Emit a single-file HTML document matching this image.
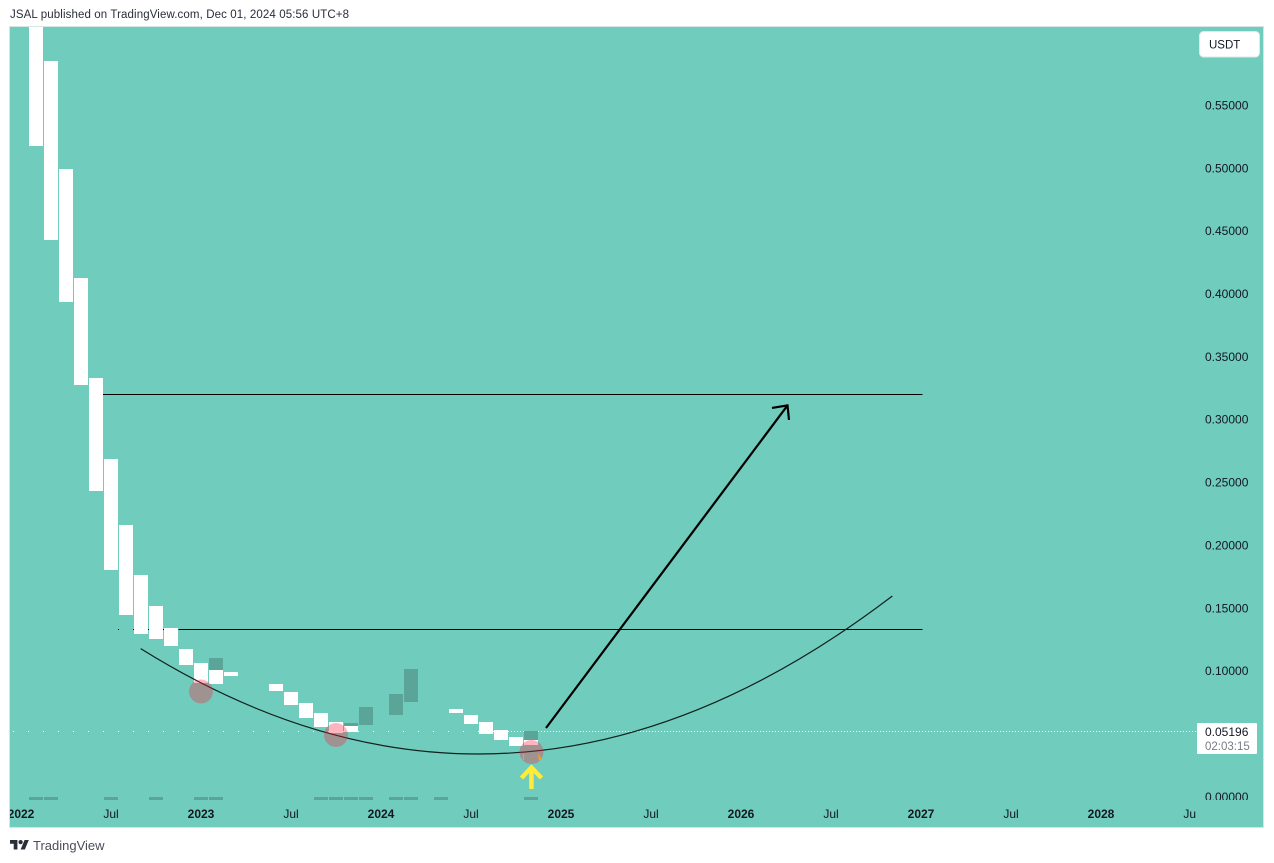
<!DOCTYPE html>
<html lang="en">
<head>
<meta charset="utf-8">
<title>JSAL chart</title>
<style>
html,body{margin:0;padding:0;background:#fff;width:1274px;height:863px;overflow:hidden}
svg{display:block;position:absolute;left:0;top:0}
text{font-family:"Liberation Sans",sans-serif}
</style>
</head>
<body>
<svg id="chart" xmlns="http://www.w3.org/2000/svg" width="1274" height="863" viewBox="0 0 1274 863">
  <defs>
    <clipPath id="plotClip"><rect x="10" y="27" width="1253" height="800"/></clipPath>
    <clipPath id="priceClip"><rect x="1198" y="27" width="65" height="773"/></clipPath>
    <clipPath id="timeClip"><rect x="10" y="800" width="1186" height="27"/></clipPath>
  </defs>
  <text x="10" y="18" font-size="11.5" fill="#2a2e39" textLength="339" lengthAdjust="spacing">JSAL published on TradingView.com, Dec 01, 2024 05:56 UTC+8</text>
  <rect x="9.5" y="26.5" width="1254" height="801" fill="#70ccbc" stroke="#d5e6e3" stroke-width="1"/>
  <g id="plot" clip-path="url(#plotClip)"></g>
  <g id="priceAxis" clip-path="url(#priceClip)"></g>
  <g id="timeAxis" clip-path="url(#timeClip)"></g>
  <g>
    <rect x="1199.5" y="31.5" width="60" height="25.5" rx="4" fill="#ffffff" stroke="#dfe9e7"/>
    <text x="1209" y="48.5" font-size="11.5" fill="#131722">USDT</text>
  </g>
  <g>
    <rect x="1197" y="723" width="60" height="31" rx="1" fill="#ffffff"/>
    <text x="1205" y="736" font-size="12" fill="#131722">0.05196</text>
    <text x="1205" y="750" font-size="11.5" fill="#787b86">02:03:15</text>
  </g>
  <g>
    <g transform="translate(10 837.9) scale(0.53)" fill="#2a2e39">
      <path d="M14 22H7V11H0V4h14v18z"/>
      <circle cx="20" cy="8" r="4"/>
      <path d="M28 22h-8l7.5-18h8L28 22z"/>
    </g>
    <text x="33" y="850" font-size="13" fill="#4a4e59">TradingView</text>
  </g>
</svg>
<script>
// Monthly candles (month index counted from Jan 2022), prices in USDT.
const candleMonths = [1,2,3,4,5,6,7,8,9,10,11,12,13,14,17,18,19,20,21,22,29,30,31,32,33,34];
const candleHighs  = [0.66,0.5851,0.4992,0.4125,0.3329,0.2685,0.2160,0.1762,0.1516,0.1340,0.1173,0.1062,0.1006,0.0990,0.0895,0.0831,0.0744,0.0664,0.0593,0.0561,0.0696,0.0648,0.0593,0.0529,0.0473,0.0450];
const candleLows   = [0.5175,0.4427,0.3934,0.3274,0.2430,0.1802,0.1444,0.1293,0.1253,0.1197,0.1046,0.0903,0.0895,0.0959,0.0839,0.0728,0.0625,0.0553,0.0505,0.0513,0.0664,0.0577,0.0497,0.0449,0.0402,0.0410];
const upMonths = [13,22,23,25,26,34];
const upHighs  = [0.1102,0.0585,0.0712,0.0815,0.1014,0.0521];
const upLows   = [0.1006,0.0561,0.0569,0.0648,0.0752,0.0450];
const volumeMonths = [1,2,6,9,12,13,20,21,22,23,25,26,28,34];
const volumeValues = [1,1,1,1,1,1,1,1,1,1,1,1,1,1];
const priceTicks = [0.55,0.50,0.45,0.40,0.35,0.30,0.25,0.20,0.15,0.10,0.05,0.00];
const timeTickMonths = [0,6,12,18,24,30,36,42,48,54,60,66,72,78];
const timeTickLabels = ["2022","Jul","2023","Jul","2024","Jul","2025","Jul","2026","Jul","2027","Jul","2028","Jul"];
const lastPrice = 0.05196;
const levelPrices = [0.3198,0.13286];
const levelStartMonths = [5.4,10.5];
const levelEndMonth = 60.1;
const arcMonths = [7.98,33.02,58.09];
const arcPrices = [0.1176,-0.0688,0.1595];
const arrowMonths = [35,51.1];
const arrowPrices = [0.0545,0.3111];
const circleMonths = [12,21,34.03];
const circlePrices = [0.0835,0.0489,0.0354];

const NS = "http://www.w3.org/2000/svg";
const plot = document.getElementById("plot");
const priceAxis = document.getElementById("priceAxis");
const timeAxis = document.getElementById("timeAxis");
function xAt(m){ return 21 + 15 * m; }
function yAt(p){ return 796.5 - 1257 * p; }
function make(parent, tag, attrs){
  const el = document.createElementNS(NS, tag);
  for (const k in attrs) el.setAttribute(k, attrs[k]);
  parent.appendChild(el);
  return el;
}

// level lines sit beneath the candles
levelPrices.forEach(function(p, i){
  const el = make(plot, "line", {x1: xAt(levelStartMonths[i]), x2: xAt(levelEndMonth), y1: Math.floor(yAt(p)) + 0.5, y2: Math.floor(yAt(p)) + 0.5, stroke: "#000", "stroke-width": 1});
  
  
});
[7,8,9,10].forEach(function(m){
  const el = make(plot, "rect", {x: xAt(m) - 8, y: Math.floor(yAt(levelPrices[1])), width: 1, height: 1, fill: "#000"});
  
  
});

// last price line: sparse dots between months, then dense dots
for (let m = 0; m <= 30; m++){
  const el = make(plot, "rect", {x: xAt(m) - 8, y: Math.floor(yAt(lastPrice)), width: 1, height: 1, fill: "#fff"});
  
  
}
const lastLine = make(plot, "line", {x1: xAt(30.47), x2: 1197, y1: Math.floor(yAt(lastPrice)) + 0.5, y2: Math.floor(yAt(lastPrice)) + 0.5, stroke: "#fff", "stroke-width": 1, "stroke-dasharray": "1 2"});



// candles
candleMonths.forEach(function(m, i){
  const t = Math.round(yAt(candleHighs[i])), b = Math.round(yAt(candleLows[i]));
  const el = make(plot, "rect", {x: xAt(m) - 7, y: t, width: 14, height: b - t, fill: "#ffffff"});
  
  
});
upMonths.forEach(function(m, i){
  const t = Math.round(yAt(upHighs[i])), b = Math.round(yAt(upLows[i]));
  const el = make(plot, "rect", {x: xAt(m) - 7, y: t, width: 14, height: b - t, fill: "#5aa597"});
  
  
});
volumeMonths.forEach(function(m, i){
  const h = 3 * volumeValues[i];
  const el = make(plot, "rect", {x: xAt(m) - 7, y: 800 - h, width: 14, height: h, fill: "#5aa597"});
  
  
});

// arc drawing
const arc = make(plot, "path", {d: "M" + xAt(arcMonths[0]) + " " + yAt(arcPrices[0]) + " Q" + xAt(arcMonths[1]) + " " + yAt(arcPrices[1]) + " " + xAt(arcMonths[2]) + " " + yAt(arcPrices[2]), fill: "none", stroke: "#10201d", "stroke-width": 1.2});



// highlight circles
circleMonths.forEach(function(m, i){
  const el = make(plot, "circle", {cx: xAt(m), cy: yAt(circlePrices[i]), r: 12, fill: "rgba(255,30,60,0.33)"});
  
  
});

// orange marks inside the last circle
const orangeTri = make(plot, "polygon", {points: [[xAt(34) + 7, yAt(0.0340)], [xAt(34) + 11.5, yAt(0.0295)], [xAt(34) + 8, yAt(0.0285)]].join(" "), fill: "#ff9a1f"});


const orangeBar = make(plot, "rect", {x: xAt(34) - 8, y: Math.round(yAt(0.0340)), width: 1, height: 6, fill: "#ff9a1f"});



// target arrow
const ax0 = xAt(arrowMonths[0]), ay0 = yAt(arrowPrices[0]), ax1 = xAt(arrowMonths[1]), ay1 = yAt(arrowPrices[1]);
const targetArrow = make(plot, "path", {d: "M" + ax0 + " " + ay0 + " L" + ax1 + " " + ay1 + " M" + (ax1 - 15.5) + " " + (ay1 + 2.5) + " L" + ax1 + " " + ay1 + " L" + (ax1 + 1.5) + " " + (ay1 + 14.5), fill: "none", stroke: "#000", "stroke-width": 2.2});



// yellow pointer arrow, tied to the last circle
const yx = xAt(circleMonths[2]);
const yellowArrow = make(plot, "path", {d: "M" + yx + " 789 L" + yx + " 767 M" + (yx - 10) + " 778 L" + yx + " 767.5 L" + (yx + 10) + " 778", fill: "none", stroke: "#ffeb3b", "stroke-width": 4.5});



// axis labels
priceTicks.forEach(function(p){
  const el = make(priceAxis, "text", {x: 1205, y: yAt(p) + 4.3, "font-size": 12, fill: "#131722"});
  el.textContent = p.toFixed(5);
  
  
});
timeTickMonths.forEach(function(m, i){
  const isYear = /^\d/.test(timeTickLabels[i]);
  const el = make(timeAxis, "text", {x: xAt(m), y: 818, "font-size": 12, "text-anchor": "middle", "font-weight": isYear ? 700 : 400, fill: "#131722"});
  el.textContent = timeTickLabels[i];
  
  
});
</script>
</body>
</html>
